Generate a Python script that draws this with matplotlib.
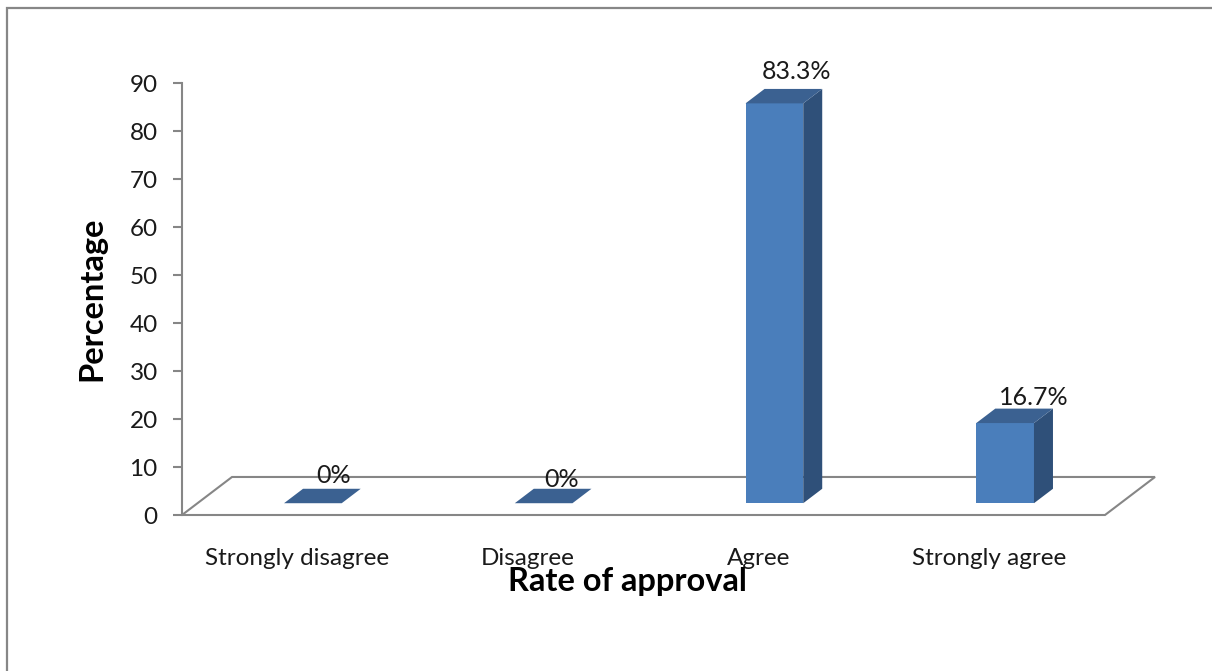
import matplotlib.pyplot as plt
from matplotlib.patches import Polygon, Rectangle

categories = ['Strongly disagree', 'Disagree', 'Agree', 'Strongly agree']
percentages = [0, 0, 83.3, 16.7]
yticks = [0, 10, 20, 30, 40, 50, 60, 70, 80, 90]

plt.rcParams['font.family'] = ['Lato', 'DejaVu Sans']

GRID = '#868686'
FRONT = '#4a7ebb'
SIDE = '#2f5079'
TOP = '#3b6191'

# floor depth vector, in data units (x per category, y in percent)
DEPTH_X, DEPTH_Y = 0.2167, 7.92
BAR_W = 0.25
T_FRONT, T_BACK = 0.31, 0.69


def add_floor(ax, n):
    pts = [(0, 0), (n, 0), (n + DEPTH_X, DEPTH_Y), (DEPTH_X, DEPTH_Y)]
    ax.add_patch(Polygon(pts, closed=True, facecolor='white', edgecolor=GRID,
                         lw=1.5, zorder=1, clip_on=False))


def add_bar(ax, i, value):
    fx = i + 0.5 - BAR_W / 2 + T_FRONT * DEPTH_X
    fy = T_FRONT * DEPTH_Y
    bx = (T_BACK - T_FRONT) * DEPTH_X
    by = (T_BACK - T_FRONT) * DEPTH_Y
    front = [(fx, fy), (fx + BAR_W, fy), (fx + BAR_W, fy + value), (fx, fy + value)]
    side = [(fx + BAR_W, fy), (fx + BAR_W + bx, fy + by),
            (fx + BAR_W + bx, fy + by + value), (fx + BAR_W, fy + value)]
    top = [(fx, fy + value), (fx + BAR_W, fy + value),
           (fx + BAR_W + bx, fy + by + value), (fx + bx, fy + by + value)]
    for pts, c in [(front, FRONT), (side, SIDE), (top, TOP)]:
        ax.add_patch(Polygon(pts, closed=True, facecolor=c, edgecolor='none',
                             zorder=3, clip_on=False))
    return fx + BAR_W / 2 + bx / 2, fy + by / 2 + value


fig = plt.figure(figsize=(12.12, 6.71), dpi=100)
fig.add_artist(Rectangle((7 / 1212, -0.1), 1.2, 1.1 - 8 / 671, transform=fig.transFigure,
                         facecolor='none', edgecolor='#878787', lw=1.6))

ax = fig.add_axes([182 / 1212, 156 / 671, 978 / 1212, 432 / 671])
ax.set_xlim(0, 978 / 230.75)
ax.set_ylim(0, 90)
for s in ['top', 'right', 'bottom']:
    ax.spines[s].set_visible(False)
ax.spines['left'].set_color(GRID)
ax.spines['left'].set_linewidth(1.5)
ax.set_xticks([])
ax.set_yticks(yticks)
ax.tick_params(axis='y', direction='out', length=6.5, width=1.5, color=GRID,
               pad=11, labelsize=17.5, labelcolor='#1a1a1a')

add_floor(ax, len(categories))

# label offsets (points) from the centre of each bar's top face
nudges = [(8, 15), (6, 12), (9, 18), (14, 13)]
for i, (name, v) in enumerate(zip(categories, percentages)):
    tx, ty = add_bar(ax, i, v)
    ax.annotate(f'{v:g}%', (tx, ty), xytext=nudges[i], textcoords='offset points',
                ha='center', va='center', fontsize=18, color='#1a1a1a',
                annotation_clip=False, zorder=5)
    ax.annotate(name, (i + 0.5, 0), xycoords=('data', 'axes fraction'),
                xytext=(0, -31), textcoords='offset points', ha='center', va='center',
                fontsize=17.5, color='#1a1a1a', annotation_clip=False)

fig.text(627 / 1212, 1 - 582 / 671, 'Rate of approval', ha='center', va='center',
         fontsize=23.5, fontweight='bold', color='black')
fig.text(92 / 1212, 1 - 299 / 671, 'Percentage', ha='center', va='center',
         rotation=90, fontsize=23.5, fontweight='bold', color='black')

fig.savefig('out.png', dpi=100, facecolor='white')
